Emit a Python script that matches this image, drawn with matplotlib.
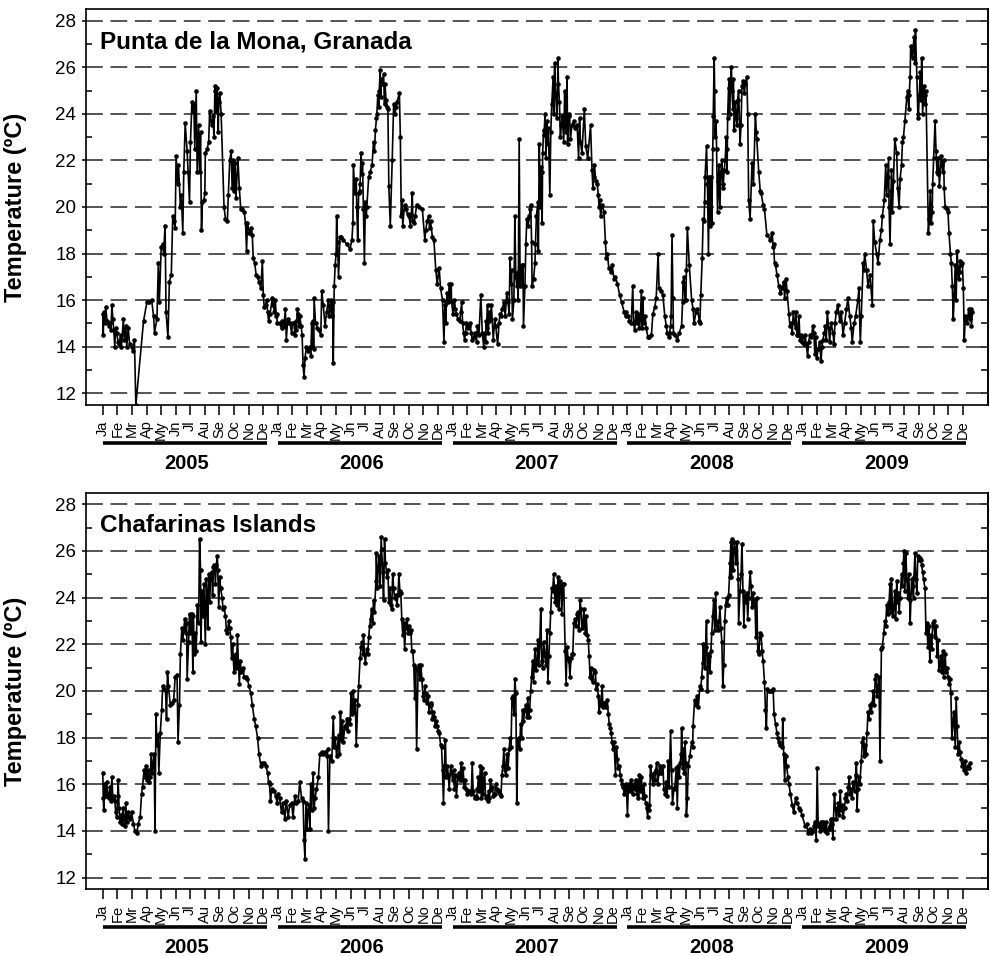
import matplotlib
matplotlib.use('Agg')
import matplotlib.pyplot as plt
from matplotlib.transforms import blended_transform_factory

plt.rcParams['font.family'] = ['Liberation Sans', 'DejaVu Sans']

years = [2005, 2006, 2007, 2008, 2009]
month_labels = ['Ja', 'Fe', 'Mr', 'Ap', 'My', 'Jn', 'Jl', 'Au', 'Se', 'Oc', 'No', 'De']
site_names = ['Punta de la Mona, Granada', 'Chafarinas Islands']
y_label = 'Temperature (ºC)'

# (day of year, temperature ºC) -- Punta de la Mona
mona_2005 = [(0,15.4),(1,14.5),(2,15.5),(4,15.0),(6,15.7),(9,15.1),(12,14.9),(15,15.0),(17,14.7),(19,15.8),
    (21,15.2),(23,14.7),(25,14.0),(27,14.8),(29,14.6),(32,14.2),(34,14.1),(37,14.5),(39,14.0),(43,15.2),
    (45,14.3),(48,14.9),(50,14.0),(53,14.8),(56,14.1),(60,14.0),(64,13.8),(66,14.3),(69,11.5),(85,15.1),
    (92,15.9),(97,15.9),(102,16.0),(106,15.3),(108,14.6),(113,15.2),(116,17.6),(118,15.9),(122,18.3),(125,18.4),
    (127,18.0),(130,19.2),(132,15.5),(136,14.4),(139,16.8),(143,17.1),(146,19.6),(148,19.4),(151,19.1),(153,22.2),
    (156,21.0),(158,21.8),(162,20.0),(164,20.5),(167,18.9),(169,21.5),(172,23.6),(176,22.4),(178,21.5),(181,20.2),
    (183,22.8),(186,24.5),(188,24.1),(190,24.4),(192,22.5),(195,25.0),(197,21.5),(200,23.5),(202,21.5),(204,23.2),
    (206,19.0),(208,20.2),(211,20.3),(213,20.6),(214,22.3),(218,22.5),(221,22.8),(223,24.1),(227,23.5),(230,23.9),
    (232,23.0),(234,25.0),(235,25.2),(237,24.1),(239,25.1),(241,23.2),(242,24.5),(244,24.9),(247,24.0),(253,20.0),
    (256,19.5),(260,19.4),(262,20.5),(265,22.0),(268,22.4),(270,20.8),(272,22.0),(274,20.7),(276,21.9),(278,20.4),
    (282,22.1),(285,20.8),(288,19.9),(291,19.9),(295,19.8),(298,19.3),(300,18.1),(302,19.3),(306,18.9),(310,19.1),
    (312,18.8),(314,17.8),(317,17.6),(320,17.1),(323,17.0),(326,16.8),(330,16.5),(333,17.7),(335,16.2),(337,15.7),
    (340,15.8),(342,16.0),(344,15.5),(346,15.1),(349,15.4),(354,16.1),(356,15.8),(358,15.5),(360,16.0),(362,15.3),
    (363,15.4),(364,15.0)]
mona_2006 = [(4,15.0),(8,14.8),(10,15.1),(13,14.9),(16,15.6),(18,14.3),(21,15.2),(23,15.0),(26,15.0),(29,14.6),
    (31,15.0),(34,15.0),(36,14.5),(38,15.1),(39,14.7),(41,15.6),(43,15.4),(45,14.9),(46,15.3),(49,14.9),
    (51,14.5),(53,13.2),(55,12.7),(57,13.5),(60,14.0),(64,13.8),(66,13.9),(67,14.0),(69,13.6),(71,15.0),
    (72,14.0),(74,15.1),(75,13.9),(76,16.1),(79,15.0),(83,14.8),(86,14.7),(90,14.5),(92,16.4),(95,15.8),
    (99,14.9),(102,15.5),(106,16.0),(108,15.3),(111,16.0),(113,15.3),(115,15.9),(116,13.3),(118,16.6),(120,17.5),
    (122,18.0),(123,19.6),(125,18.5),(127,17.0),(130,18.7),(132,18.7),(137,18.6),(144,18.4),(151,18.2),(155,18.6),
    (157,19.3),(158,21.8),(161,20.6),(164,21.2),(165,20.0),(167,18.6),(169,20.6),(171,20.7),(172,21.0),(174,22.3),
    (176,21.4),(177,21.9),(179,19.9),(181,17.6),(183,20.2),(185,19.6),(186,20.0),(190,21.3),(193,21.5),(197,21.8),
    (200,22.8),(202,22.4),(204,23.3),(206,23.8),(207,24.0),(209,24.8),(211,24.3),(212,25.0),(214,25.9),(215,24.7),
    (216,25.5),(218,25.3),(221,25.7),(223,24.4),(224,25.3),(226,24.6),(228,24.3),(230,24.2),(232,20.9),(235,19.2),
    (239,22.0),(242,24.4),(245,24.0),(247,24.3),(249,24.5),(254,24.9),(256,23.0),(258,19.6),(260,20.3),(261,19.2),
    (265,20.1),(268,19.9),(271,19.7),(274,19.6),(277,19.2),(279,19.7),(281,20.6),(282,19.4),(284,19.3),(287,19.6),
    (290,20.1),(295,20.0),(302,19.9),(307,18.6),(309,19.0),(312,19.4),(315,19.6),(317,19.1),(319,19.4),(323,18.7),
    (326,18.6),(330,17.3),(333,16.7),(337,17.4),(340,16.5),(344,16.0),(347,14.2),(349,15.8),(351,15.0),(352,15.9),
    (354,16.3),(356,15.9),(358,16.7),(360,16.0),(362,16.7),(363,15.9)]
mona_2007 = [(1,15.4),(4,16.0),(6,15.6),(8,15.4),(11,15.2),(15,15.1),(17,15.5),(19,15.9),(21,15.0),(23,14.6),
    (25,14.3),(27,14.6),(29,15.0),(32,14.8),(34,14.9),(36,15.0),(39,14.6),(41,14.3),(44,14.4),(47,14.6),
    (50,14.2),(52,14.9),(55,14.5),(59,16.2),(62,14.6),(65,14.0),(67,14.6),(69,14.2),(70,15.1),(71,14.8),
    (73,15.8),(74,14.6),(76,15.1),(77,15.5),(79,15.2),(81,15.8),(85,14.3),(88,15.2),(90,14.9),(94,14.1),
    (97,15.0),(99,15.4),(101,15.3),(103,15.6),(107,15.9),(110,15.3),(113,16.3),(116,15.9),(118,15.4),(120,17.8),
    (122,16.7),(123,17.3),(125,15.2),(128,16.0),(130,19.6),(132,17.0),(134,16.6),(136,17.2),(137,16.0),(139,22.9),
    (141,16.6),(144,17.5),(146,16.6),(147,17.5),(148,14.9),(151,16.6),(153,18.4),(155,19.5),(158,19.2),(160,19.6),
    (162,19.9),(163,20.1),(165,18.5),(166,16.6),(169,16.9),(172,17.6),(173,18.4),(175,19.6),(178,20.2),(179,18.1),
    (181,22.7),(183,20.0),(184,21.7),(186,21.5),(187,19.3),(188,22.3),(190,23.3),(191,23.1),(193,24.0),(195,22.1),
    (197,23.7),(199,22.7),(200,23.4),(203,20.5),(205,23.2),(207,24.4),(210,25.6),(211,24.0),(213,26.2),(215,24.9),
    (218,23.8),(220,26.4),(221,25.3),(223,24.5),(225,23.0),(227,23.5),(229,23.9),(232,22.8),(234,25.0),(235,23.5),
    (237,23.2),(239,25.6),(240,22.7),(242,23.9),(244,24.0),(246,22.9),(249,23.5),(253,23.7),(256,23.4),(260,23.5),
    (263,22.1),(265,23.8),(267,22.8),(270,22.3),(275,24.2),(278,22.6),(282,22.1),(288,23.5),(291,21.6),(293,20.8),
    (295,21.3),(296,21.8),(299,21.1),(302,21.0),(304,20.5),(306,20.0),(307,20.3),(309,19.6),(312,20.1),(316,19.8),
    (319,18.5),(321,17.8),(323,18.0),(326,17.4),(330,17.2),(333,17.5),(337,16.9),(340,17.0),(344,16.7),(349,16.2),
    (353,15.9),(358,15.5),(361,15.3),(363,15.5)]
mona_2008 = [(2,15.3),(4,15.1),(8,15.0),(11,16.6),(13,15.0),(15,14.7),(18,15.5),(20,15.0),(23,15.4),(25,14.8),
    (27,15.2),(29,16.4),(31,14.8),(32,16.1),(34,15.0),(37,15.3),(39,14.8),(43,14.4),(46,14.4),(50,14.5),
    (53,15.4),(57,15.7),(60,16.1),(64,18.0),(66,16.5),(71,16.4),(74,16.2),(78,15.3),(81,14.9),(83,14.6),
    (86,14.4),(88,14.6),(90,14.9),(91,15.3),(93,18.8),(95,16.1),(96,14.6),(99,14.5),(104,14.3),(108,14.6),
    (113,14.9),(115,15.9),(116,16.8),(118,17.0),(120,16.0),(122,16.0),(123,17.3),(125,19.1),(129,17.5),(134,16.0),
    (137,15.6),(139,15.0),(143,15.5),(146,15.6),(150,15.1),(151,15.0),(153,16.2),(156,17.8),(158,19.5),(160,19.4),
    (161,20.2),(162,21.3),(165,22.6),(167,21.0),(169,18.0),(171,21.3),(172,19.2),(174,21.3),(176,19.3),(178,22.5),
    (179,23.9),(181,26.4),(182,25.0),(183,23.0),(185,23.7),(186,22.5),(188,19.8),(190,21.1),(191,21.8),(193,20.0),
    (195,21.5),(197,22.0),(199,20.8),(200,21.0),(202,21.6),(204,22.0),(206,23.0),(207,22.5),(208,21.5),(209,23.8),
    (211,25.1),(212,25.5),(213,24.0),(215,25.4),(217,26.0),(218,25.0),(220,24.2),(221,25.5),(223,23.3),(225,24.5),
    (227,23.8),(229,23.5),(230,24.6),(232,25.0),(235,22.7),(237,23.5),(239,25.2),(241,25.4),(244,24.9),(246,25.3),
    (249,25.6),(251,24.0),(253,20.3),(256,19.5),(260,21.9),(263,21.0),(267,24.0),(269,23.2),(270,22.9),(274,21.5),
    (277,20.7),(279,20.6),(283,20.1),(286,19.9),(291,18.8),(298,18.6),(302,18.9),(304,18.3),(305,18.4),(307,17.6),
    (309,17.5),(312,17.1),(316,16.6),(319,16.3),(323,16.5),(326,16.8),(328,16.1),(331,16.9),(333,16.4),(337,15.4),
    (339,14.9),(342,15.0),(344,14.6),(346,15.5),(349,15.0),(351,14.8),(352,15.5),(354,14.5),(356,14.5),(358,15.3),
    (360,14.3),(362,14.5),(364,14.4)]
mona_2009 = [(0,14.2),(3,14.1),(6,14.5),(8,14.1),(11,13.6),(13,14.2),(16,14.5),(19,14.4),(22,14.9),(24,14.6),
    (26,13.7),(28,14.4),(30,13.5),(33,13.9),(36,14.2),(39,13.4),(41,14.0),(43,14.3),(46,14.6),(48,14.9),
    (50,14.3),(52,15.5),(55,14.8),(57,14.2),(60,15.0),(64,14.6),(66,14.1),(68,15.0),(71,15.5),(74,15.8),
    (78,15.1),(81,15.5),(85,14.5),(88,15.0),(92,15.6),(95,16.1),(99,15.3),(102,14.8),(104,14.2),(108,15.0),
    (111,15.3),(116,16.0),(118,16.5),(121,14.2),(123,15.3),(127,17.6),(128,17.3),(130,18.0),(134,17.3),(137,16.6),
    (141,17.1),(146,15.8),(148,19.4),(151,18.5),(155,18.0),(158,17.6),(162,18.6),(165,19.0),(167,19.6),(171,20.3),
    (174,21.8),(176,20.5),(178,21.3),(180,22.1),(181,20.0),(183,18.4),(185,20.7),(186,21.6),(188,19.8),(190,21.1),
    (193,22.9),(197,22.3),(199,20.8),(202,20.0),(204,21.2),(207,21.8),(209,22.8),(211,23.0),(214,23.7),(218,24.7),
    (220,25.0),(222,24.2),(223,24.8),(225,25.6),(226,26.9),(228,26.7),(230,26.4),(233,27.3),(235,26.2),(236,27.6),
    (239,25.6),(241,24.0),(242,23.8),(244,24.8),(246,25.8),(248,24.6),(249,26.4),(251,24.0),(254,25.2),(256,24.8),
    (257,24.4),(258,25.0),(263,18.9),(265,19.5),(267,20.7),(269,19.3),(271,19.8),(272,21.0),(274,22.1),(277,23.7),
    (279,22.4),(281,21.5),(283,21.4),(284,22.1),(286,20.9),(290,22.2),(292,21.8),(293,21.5),(295,22.0),(296,20.8),
    (298,20.0),(302,19.9),(304,19.8),(306,18.9),(309,18.0),(311,17.6),(313,16.6),(315,15.2),(317,16.2),(319,17.5),
    (321,16.0),(323,18.1),(325,17.4),(326,16.9),(328,17.2),(330,17.7),(332,17.5),(334,17.6),(336,16.5),(338,14.3),
    (340,15.3),(344,15.0),(347,15.6),(349,15.2),(351,15.6),(353,14.9),(355,15.5)]

# (day of year, temperature ºC) -- Chafarinas Islands
chaf_2005 = [(0,16.5),(1,15.4),(2,14.9),(3,16.0),(4,15.7),(6,15.5),(8,16.1),(11,15.5),(13,15.4),(15,15.9),
    (17,15.3),(19,16.3),(21,15.4),(23,15.5),(25,15.3),(27,14.8),(29,14.6),(31,15.5),(32,16.2),(34,15.0),
    (36,14.4),(38,14.7),(40,14.3),(42,15.0),(44,14.5),(46,14.2),(48,15.2),(50,14.4),(53,14.8),(55,14.6),
    (57,14.5),(60,14.8),(64,14.3),(67,14.0),(71,13.9),(74,14.3),(78,14.6),(81,15.6),(83,15.9),(86,16.6),
    (88,16.3),(90,16.8),(92,16.2),(95,16.6),(97,16.1),(99,16.3),(101,17.3),(103,16.5),(105,16.9),(107,17.3),
    (109,14.0),(111,19.0),(113,17.7),(115,18.1),(117,16.5),(120,18.2),(123,19.2),(125,20.2),(128,20.1),(131,20.0),
    (133,18.8),(135,20.8),(137,20.2),(141,19.4),(144,19.5),(148,19.6),(151,20.6),(155,20.7),(157,17.8),(160,19.4),
    (162,21.6),(165,22.7),(167,22.2),(169,22.6),(171,23.1),(173,22.5),(175,22.9),(176,20.5),(179,22.1),(181,23.3),
    (183,22.5),(186,23.3),(188,20.8),(189,23.2),(191,21.6),(193,22.5),(195,21.7),(197,23.7),(200,22.9),(202,26.5),
    (204,25.2),(205,22.1),(207,24.3),(209,23.2),(211,24.6),(214,22.0),(216,24.8),(218,23.8),(219,22.7),(221,25.0),
    (223,23.8),(225,24.8),(228,25.1),(229,24.1),(231,25.3),(233,25.4),(235,24.6),(237,25.4),(239,25.8),(240,25.2),
    (242,23.6),(244,24.9),(246,24.4),(249,24.0),(251,23.5),(253,23.6),(256,23.2),(258,22.6),(260,22.5),(263,23.0),
    (265,22.7),(267,22.3),(269,21.4),(271,22.0),(272,21.5),(274,20.8),(277,21.6),(279,21.0),(281,22.4),(283,21.2),
    (285,20.3),(287,21.3),(289,20.8),(291,20.9),(293,21.0),(295,20.6),(298,20.6),(302,20.5),(305,20.2),(309,19.9),
    (312,19.4),(316,18.8),(319,18.5),(323,18.0),(326,17.3),(330,16.8),(333,16.9),(337,16.9),(340,16.8),(344,16.5),
    (346,16.1),(348,16.0),(350,15.3),(352,15.7),(354,15.8),(358,15.7),(361,15.5),(364,15.2)]
chaf_2006 = [(1,15.6),(4,15.4),(8,14.8),(11,15.2),(15,14.5),(18,15.3),(22,14.6),(25,15.1),(29,15.2),(32,14.6),
    (36,15.5),(39,15.2),(43,15.3),(46,16.1),(50,15.4),(53,15.3),(55,13.6),(57,12.8),(59,15.2),(61,14.1),
    (63,14.9),(65,15.1),(67,14.1),(69,16.0),(71,14.9),(74,16.5),(76,15.0),(78,15.4),(81,15.8),(85,16.3),
    (88,17.3),(92,17.4),(95,17.3),(99,17.4),(102,17.2),(104,17.5),(106,14.0),(109,17.2),(113,17.0),(116,18.9),
    (118,17.6),(120,18.0),(123,17.2),(127,18.1),(129,17.3),(131,19.1),(133,17.9),(135,18.7),(137,17.8),(140,18.5),
    (142,18.4),(144,18.8),(146,18.3),(148,18.8),(151,18.6),(153,19.9),(155,19.0),(158,20.0),(160,19.1),(162,19.6),
    (164,17.7),(167,19.4),(169,20.2),(172,21.4),(174,21.9),(176,22.1),(178,21.6),(179,22.4),(181,21.6),(183,21.2),
    (186,21.8),(188,21.6),(190,22.3),(192,22.8),(194,23.1),(196,23.5),(198,22.9),(200,23.9),(202,23.4),(205,24.7),
    (206,25.9),(208,24.4),(210,25.3),(212,25.8),(214,24.5),(216,26.6),(217,26.1),(219,25.1),(221,23.9),(223,26.5),
    (225,25.5),(228,24.9),(230,25.2),(232,23.8),(234,24.4),(236,23.7),(238,23.5),(240,25.0),(242,24.4),(244,24.0),
    (246,24.1),(249,23.7),(251,24.1),(253,25.0),(255,24.3),(257,24.2),(259,23.1),(261,22.4),(263,22.9),(265,21.8),
    (267,22.7),(270,23.1),(272,22.5),(274,22.8),(276,22.5),(278,22.6),(280,21.7),(282,21.7),(284,21.1),(286,19.7),
    (288,21.0),(290,17.5),(293,20.9),(295,21.1),(297,20.5),(299,21.1),(301,20.5),(303,19.8),(305,19.6),(307,20.2),
    (309,19.9),(312,19.5),(314,19.8),(316,19.1),(319,19.4),(321,19.5),(323,18.8),(325,19.1),(327,18.9),(329,18.5),
    (331,18.7),(333,18.5),(335,18.3),(337,18.2),(340,17.7),(342,17.6),(344,16.6),(346,15.2),(348,16.8),(350,17.9),
    (352,16.3),(354,16.8),(356,16.4),(358,15.8),(361,16.8)]
chaf_2007 = [(0,16.2),(2,16.6),(4,15.8),(6,16.4),(8,15.5),(11,16.3),(13,16.5),(15,16.2),(18,16.9),(20,16.2),
    (22,16.7),(24,15.9),(26,16.2),(28,15.8),(30,15.6),(32,15.7),(36,15.7),(39,15.6),(41,16.9),(43,15.7),
    (46,15.4),(48,15.5),(50,15.4),(52,15.8),(54,16.3),(56,15.7),(58,16.8),(60,15.4),(62,16.7),(64,15.6),
    (67,16.5),(69,15.4),(71,15.5),(73,15.3),(75,15.7),(77,15.4),(79,16.2),(81,15.8),(83,15.9),(85,15.5),
    (88,15.6),(90,16.0),(92,15.8),(94,15.7),(96,15.7),(98,15.6),(101,15.5),(103,16.4),(105,16.8),(107,17.5),
    (109,16.6),(111,16.4),(113,17.3),(116,16.7),(118,17.5),(120,18.0),(122,17.6),(124,19.7),(126,19.8),(128,19.0),
    (130,20.5),(132,19.9),(134,15.2),(136,17.9),(138,18.0),(140,17.5),(142,18.6),(144,18.0),(146,19.2),(148,18.7),
    (151,19.2),(153,19.4),(155,18.9),(157,19.7),(159,18.9),(161,19.2),(163,20.0),(165,20.6),(167,21.3),(169,20.4),
    (172,21.8),(174,20.9),(176,21.2),(178,22.2),(180,21.1),(182,22.0),(184,23.5),(186,21.3),(188,21.0),(190,22.1),
    (193,21.5),(195,21.1),(197,22.6),(199,20.4),(201,21.5),(203,22.5),(205,23.4),(207,24.4),(209,24.3),(211,25.0),
    (214,23.8),(216,24.5),(218,23.7),(220,24.9),(222,23.5),(224,24.7),(226,24.5),(228,23.3),(230,24.6),(232,24.6),
    (235,21.7),(237,20.3),(239,21.9),(241,21.4),(243,21.3),(245,20.6),(247,21.4),(249,21.6),(251,21.6),(253,22.9),
    (256,23.1),(258,22.8),(260,23.3),(262,23.4),(264,22.6),(266,23.9),(268,23.5),(270,22.7),(272,22.8),(274,23.5),
    (277,22.5),(279,23.2),(281,22.4),(283,22.2),(285,21.5),(287,20.6),(289,21.0),(291,20.5),(293,20.4),(295,20.9),
    (298,20.8),(300,20.1),(302,20.3),(304,19.8),(306,19.1),(308,19.6),(310,19.4),(312,20.2),(314,19.3),(316,19.5),
    (319,19.5),(321,19.3),(323,19.6),(325,19.0),(327,18.6),(329,18.4),(331,18.2),(333,17.8),(335,17.5),(337,17.8),
    (340,16.4),(342,17.6),(344,17.1),(346,16.7),(348,16.8),(350,16.4),(352,16.2),(354,16.0),(356,15.9),(358,15.6),
    (361,16.0),(363,15.7)]
chaf_2008 = [(0,14.7),(2,15.9),(4,16.0),(6,15.7),(8,16.2),(11,15.6),(13,16.0),(15,15.8),(17,16.2),(19,15.6),
    (21,16.1),(23,15.4),(25,16.4),(27,15.7),(29,16.3),(32,15.4),(34,16.0),(36,15.5),(38,15.2),(40,15.0),
    (42,14.6),(44,15.1),(46,14.9),(48,16.8),(50,16.4),(53,16.0),(55,16.5),(57,16.2),(59,16.6),(61,16.9),
    (63,16.0),(66,16.5),(67,16.8),(71,16.5),(74,16.8),(76,15.8),(78,15.6),(81,16.1),(83,15.5),(85,17.0),
    (87,15.9),(90,18.3),(92,16.6),(94,15.2),(97,15.8),(99,15.9),(102,16.7),(104,15.0),(106,16.8),(108,16.3),
    (110,16.9),(112,17.3),(113,18.4),(115,16.7),(116,17.5),(118,16.5),(120,17.8),(122,16.9),(123,14.7),(125,15.4),
    (127,16.8),(130,17.2),(134,17.8),(136,17.6),(137,18.5),(140,19.6),(143,19.4),(146,19.8),(148,19.3),(151,20.2),
    (153,20.1),(155,20.6),(157,21.2),(158,22.0),(160,21.7),(161,21.0),(163,21.9),(165,23.0),(167,20.0),(169,21.6),
    (171,21.5),(172,20.8),(174,21.7),(176,22.5),(178,23.2),(180,23.9),(182,22.6),(184,24.2),(186,22.8),(188,23.0),
    (190,22.6),(193,23.6),(195,22.7),(197,22.1),(199,20.2),(201,21.1),(203,23.0),(205,23.7),(207,24.0),(209,23.7),
    (211,24.1),(213,24.9),(214,25.5),(216,26.4),(217,24.9),(218,26.5),(221,25.2),(223,26.4),(225,26.1),(227,25.5),
    (229,26.4),(231,24.8),(232,22.9),(235,24.3),(237,25.0),(239,26.3),(241,24.3),(243,22.8),(245,24.1),(247,23.8),
    (249,24.2),(251,23.1),(253,24.0),(256,25.1),(258,24.5),(260,23.6),(262,24.2),(264,23.7),(266,23.9),(268,22.3),
    (270,24.0),(272,21.7),(274,21.6),(277,22.5),(279,22.4),(281,21.7),(283,21.3),(286,20.4),(288,19.2),(290,18.4),
    (292,20.1),(295,20.0),(298,20.0),(302,20.0),(304,20.1),(306,19.0),(309,18.6),(312,18.2),(314,18.0),(316,17.8),
    (319,17.7),(323,17.6),(324,18.8),(326,17.3),(328,16.2),(330,17.2),(332,16.8),(335,16.3),(337,16.0),(340,15.6),
    (344,15.1),(347,14.8),(351,15.4),(354,15.2),(358,15.0),(361,14.9),(364,14.7)]
chaf_2009 = [(6,14.2),(9,14.3),(12,13.9),(15,14.1),(17,14.0),(19,13.9),(22,14.0),(24,14.2),(26,14.4),(29,13.6),
    (31,16.7),(33,14.2),(35,14.3),(37,14.0),(39,14.4),(41,14.1),(43,14.4),(46,14.2),(48,14.0),(50,14.4),
    (52,13.9),(55,14.1),(57,14.2),(59,14.5),(61,14.3),(64,13.7),(65,14.5),(67,15.6),(69,15.0),(71,14.5),
    (73,14.9),(75,15.2),(77,14.7),(79,15.7),(81,14.9),(83,15.1),(85,14.6),(88,15.0),(90,15.4),(92,15.6),
    (94,15.3),(96,15.9),(98,16.3),(100,15.6),(102,15.8),(104,15.4),(106,16.1),(109,15.7),(111,16.4),(113,16.9),
    (114,14.9),(116,15.8),(118,16.3),(120,16.0),(123,17.0),(125,17.8),(127,18.0),(129,17.2),(131,17.7),(133,17.3),
    (135,18.2),(137,19.1),(139,18.8),(141,19.4),(144,19.1),(146,19.5),(148,20.0),(150,19.4),(152,20.5),(154,20.7),
    (156,19.8),(158,20.1),(160,20.6),(162,17.0),(165,21.8),(167,21.9),(170,22.5),(172,23.0),(174,22.8),(176,23.7),
    (179,23.3),(181,23.8),(183,24.6),(184,23.4),(186,24.8),(188,23.6),(190,23.2),(193,24.3),(195,23.1),(197,24.7),
    (198,23.8),(200,24.2),(202,23.4),(204,24.0),(207,25.0),(209,24.5),(211,25.5),(212,26.0),(214,24.3),(216,25.9),
    (218,24.8),(220,24.0),(222,25.0),(224,23.9),(225,22.9),(228,24.8),(230,24.5),(232,24.0),(233,24.9),(235,25.9),
    (237,24.8),(239,24.2),(241,25.8),(243,25.6),(245,25.7),(247,25.6),(249,25.4),(251,25.1),(253,24.8),(256,24.4),
    (258,22.5),(260,22.9),(262,21.9),(264,22.8),(266,21.3),(268,22.4),(270,21.8),(272,22.9),(274,23.0),(277,22.3),
    (279,22.8),(281,21.5),(283,22.2),(285,20.9),(287,21.1),(289,21.5),(291,20.8),(293,21.7),(295,20.6),(298,21.6),
    (300,20.8),(302,21.0),(304,20.6),(306,20.3),(308,20.5),(310,19.9),(312,18.0),(314,18.6),(316,19.1),(319,17.6),
    (321,19.7),(323,18.5),(325,17.3),(327,17.8),(329,17.4),(331,17.1),(333,16.8),(335,16.9),(337,16.6),(340,17.0),
    (342,16.5),(344,16.7),(346,16.8),(348,16.7),(350,16.9)]

series = [
    [mona_2005, mona_2006, mona_2007, mona_2008, mona_2009],
    [chaf_2005, chaf_2006, chaf_2007, chaf_2008, chaf_2009],
]


def to_xy(year_lists):
    xs, ys = [], []
    for k, pairs in enumerate(year_lists):
        for doy, t in pairs:
            xs.append(12 * k + doy * 12.0 / 365.0)
            ys.append(t)
    return xs, ys


fig = plt.figure(figsize=(9.9, 9.56), dpi=100)
ax_top = fig.add_axes([0.0866, 0.5764, 0.9114, 0.4142])
ax_bot = fig.add_axes([0.0866, 0.0698, 0.9114, 0.4149])

n_months = 12 * len(years)
for ax, name, data in zip([ax_top, ax_bot], site_names, series):
    xs, ys = to_xy(data)
    ax.plot(xs, ys, color='black', lw=1.2, marker='o', ms=2.3, mfc='black', mec='black', zorder=3)
    ax.set_xlim(-1.17, 60.74)
    ax.set_ylim(11.5, 28.5)

    ax.set_yticks(range(12, 29, 2))
    ax.set_yticks(range(13, 28, 2), minor=True)
    ax.tick_params(axis='y', which='major', direction='out', length=3, width=1.1, labelsize=13.5, pad=4)
    ax.tick_params(axis='y', which='minor', direction='in', length=4, width=1.1)
    for yv in range(12, 29, 2):
        ax.axhline(yv, color='#262626', lw=1.1, dashes=(11, 5), zorder=1)

    sec = ax.secondary_yaxis('right')
    sec.set_yticks(range(12, 29, 2))
    sec.set_yticks(range(13, 28, 2), minor=True)
    sec.tick_params(which='both', direction='in', length=5, width=1.1, labelright=False)
    sec.spines['right'].set_linewidth(1.2)

    ax.set_xticks(range(n_months))
    ax.set_xticklabels(month_labels * len(years), rotation=90, fontsize=10.5)
    ax.tick_params(axis='x', which='major', direction='out', length=7, width=1.1, pad=4)
    for sp in ax.spines.values():
        sp.set_linewidth(1.2)

    ax.set_ylabel(y_label, fontsize=17, fontweight='bold')
    ax.yaxis.set_label_coords(-0.065, 0.5)

    ax.text(0.016, 0.917, name, transform=ax.transAxes, fontsize=17.5, fontweight='bold',
            ha='left', va='center')

    trans = blended_transform_factory(ax.transData, ax.transAxes)
    for k, yr in enumerate(years):
        ax.plot([12 * k, 12 * k + 11.25], [-0.096, -0.096], transform=trans, color='black',
                lw=2.6, solid_capstyle='butt', clip_on=False)
        ax.text(12 * k + 5.75, -0.147, str(yr), transform=trans, ha='center', va='center',
                fontsize=14.5, fontweight='bold')

fig.savefig('out.png', dpi=100)
